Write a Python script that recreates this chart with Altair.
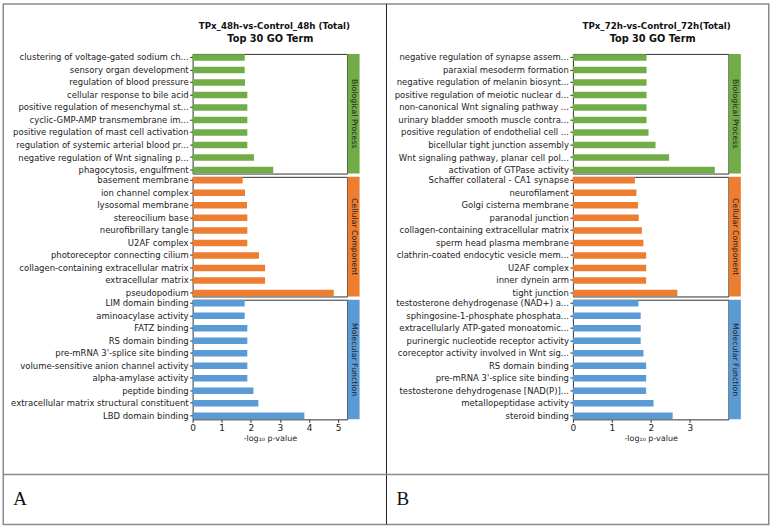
import altair as alt
import pandas as pd

# ---------------- data ----------------
l_bp_terms = ["clustering of voltage-gated sodium ch...", "sensory organ development",
              "regulation of blood pressure", "cellular response to bile acid",
              "positive regulation of mesenchymal st...", "cyclic-GMP-AMP transmembrane im...",
              "positive regulation of mast cell activation", "regulation of systemic arterial blood pr...",
              "negative regulation of Wnt signaling p...", "phagocytosis, engulfment"]
l_bp_vals = [1.79, 1.79, 1.80, 1.88, 1.88, 1.88, 1.88, 1.88, 2.11, 2.77]

l_cc_terms = ["basement membrane", "ion channel complex", "lysosomal membrane", "stereocilium base",
              "neurofibrillary tangle", "U2AF complex", "photoreceptor connecting cilium",
              "collagen-containing extracellular matrix", "extracellular matrix", "pseudopodium"]
l_cc_vals = [1.72, 1.80, 1.87, 1.88, 1.88, 1.88, 2.28, 2.49, 2.49, 4.85]

l_mf_terms = ["LIM domain binding", "aminoacylase activity", "FATZ binding", "RS domain binding",
              "pre-mRNA 3'-splice site binding", "volume-sensitive anion channel activity",
              "alpha-amylase activity", "peptide binding",
              "extracellular matrix structural constituent", "LBD domain binding"]
l_mf_vals = [1.79, 1.79, 1.88, 1.88, 1.88, 1.88, 1.88, 2.09, 2.26, 3.84]

r_bp_terms = ["negative regulation of synapse assem...", "paraxial mesoderm formation",
              "negative regulation of melanin biosynt...", "positive regulation of meiotic nuclear d...",
              "non-canonical Wnt signaling pathway ...", "urinary bladder smooth muscle contra...",
              "positive regulation of endothelial cell ...", "bicellular tight junction assembly",
              "Wnt signaling pathway, planar cell pol...", "activation of GTPase activity"]
r_bp_vals = [1.89, 1.89, 1.89, 1.89, 1.89, 1.89, 1.94, 2.12, 2.47, 3.64]

r_cc_terms = ["Schaffer collateral - CA1 synapse", "neurofilament", "Golgi cisterna membrane",
              "paranodal junction", "collagen-containing extracellular matrix",
              "sperm head plasma membrane", "clathrin-coated endocytic vesicle mem...",
              "U2AF complex", "inner dynein arm", "tight junction"]
r_cc_vals = [1.59, 1.63, 1.67, 1.69, 1.77, 1.81, 1.88, 1.88, 1.88, 2.68]

r_mf_terms = ["testosterone dehydrogenase (NAD+) a...", "sphingosine-1-phosphate phosphata...",
              "extracellularly ATP-gated monoatomic...", "purinergic nucleotide receptor activity",
              "coreceptor activity involved in Wnt sig...", "RS domain binding",
              "pre-mRNA 3'-splice site binding", "testosterone dehydrogenase [NAD(P)]...",
              "metallopeptidase activity", "steroid binding"]
r_mf_vals = [1.68, 1.74, 1.74, 1.74, 1.81, 1.88, 1.88, 1.88, 2.07, 2.56]

categories = ["Biological Process", "Cellular Component", "Molecular Function"]
cat_colors = ["#70AD47", "#ED7D31", "#5B9BD5"]
left_title = ["TPx_48h-vs-Control_48h  (Total)", "Top 30 GO Term"]
right_title = ["TPx_72h-vs-Control_72h(Total)", "Top 30 GO Term"]
left_ticks = [0, 1, 2, 3, 4, 5]
right_ticks = [0, 1, 2, 3]
panel_letters = ["A", "B"]

H = 120
FONT = "DejaVu Sans"
one = pd.DataFrame({"k": [0]})


def section(terms, vals, color, strip, xmax, W, ticks, bottom):
    df = pd.DataFrame({"term": terms, "value": vals})
    if bottom:
        xaxis = alt.Axis(values=ticks, title="-log₁₀ p-value", grid=False, domain=False,
                         tickSize=3, labelFontSize=9, titleFontSize=8, titleFontWeight="normal",
                         labelPadding=1, titlePadding=2, tickColor="#333", labelColor="#222",
                         titleColor="#222", labelFont=FONT, titleFont=FONT, labelFlush=False)
    else:
        xaxis = None
    bars = alt.Chart(df).mark_bar(color=color).encode(
        x=alt.X("value:Q", scale=alt.Scale(domain=[0, xmax], nice=False, zero=True), axis=xaxis),
        y=alt.Y("term:N", sort=None,
                scale=alt.Scale(paddingInner=0.48, paddingOuter=0.02),
                axis=alt.Axis(title=None, domain=False, tickSize=3, tickColor="#333",
                              labelFontSize=8.5, labelColor="#222", labelPadding=1.5,
                              labelLimit=400, labelFont=FONT)),
    )
    band = alt.Chart(one).mark_rect(color=color).encode(
        x=alt.value(W + 0.5), x2=alt.value(W + 12.5), y=alt.value(0), y2=alt.value(H))
    txt = alt.Chart(one).mark_text(text=strip, angle=90, fontSize=7.8, color="#222", font=FONT,
                                   align="center", baseline="middle").encode(
        x=alt.value(W + 6.5), y=alt.value(H / 2))
    return [bars, band, txt]


def title_layers(lines, cx1, cx2):
    t1 = alt.Chart(one).mark_text(text=lines[0], fontSize=8.7, fontWeight="bold", font=FONT,
                                  color="#111", align="center", baseline="middle").encode(
        x=alt.value(cx1), y=alt.value(-28.5))
    t2 = alt.Chart(one).mark_text(text=lines[1], fontSize=9.8, fontWeight="bold", font=FONT,
                                  color="#111", align="center", baseline="middle").encode(
        x=alt.value(cx2), y=alt.value(-15))
    return [t1, t2]


WL, WR = 155, 156

# frame (positions relative to left-top panel origin)
frame = alt.Chart(one).mark_rect(fill="white", fillOpacity=0, stroke="#8a8a8a", strokeWidth=1.5).encode(
    x=alt.value(-190), x2=alt.value(578), y=alt.value(-50), y2=alt.value(472))
divider = alt.Chart(one).mark_rule(color="#222", strokeWidth=1).encode(
    x=alt.value(194.5), y=alt.value(-50), y2=alt.value(472))
hline = alt.Chart(one).mark_rule(color="#8a8a8a", strokeWidth=1.5).encode(
    x=alt.value(-190), x2=alt.value(578), y=alt.value(422))
letterA = alt.Chart(one).mark_text(text=panel_letters[0], font="Liberation Serif", fontSize=19,
                                   color="#111", align="left", baseline="alphabetic").encode(
    x=alt.value(-180), y=alt.value(453))
letterB = alt.Chart(one).mark_text(text=panel_letters[1], font="Liberation Serif", fontSize=19,
                                   color="#111", align="left", baseline="alphabetic").encode(
    x=alt.value(204.5), y=alt.value(453))

l_bp = alt.layer(*section(l_bp_terms, l_bp_vals, cat_colors[0], categories[0], 5.31, WL, left_ticks, False),
                 *title_layers(left_title, 82, 78),
                 frame, divider, hline, letterA, letterB).properties(width=WL, height=H)
l_cc = alt.layer(*section(l_cc_terms, l_cc_vals, cat_colors[1], categories[1], 5.31, WL, left_ticks, False)
                 ).properties(width=WL, height=H)
l_mf = alt.layer(*section(l_mf_terms, l_mf_vals, cat_colors[2], categories[2], 5.31, WL, left_ticks, True)
                 ).properties(width=WL, height=H)

r_bp = alt.layer(*section(r_bp_terms, r_bp_vals, cat_colors[0], categories[0], 3.99, WR, right_ticks, False),
                 *title_layers(right_title, 84, 80)).properties(width=WR, height=H)
r_cc = alt.layer(*section(r_cc_terms, r_cc_vals, cat_colors[1], categories[1], 3.99, WR, right_ticks, False)
                 ).properties(width=WR, height=H)
r_mf = alt.layer(*section(r_mf_terms, r_mf_vals, cat_colors[2], categories[2], 3.99, WR, right_ticks, True)
                 ).properties(width=WR, height=H)

chart = alt.concat(l_bp, r_bp, l_cc, r_cc, l_mf, r_mf, columns=2,
                   spacing={"row": 3.3, "column": 226.5}, bounds="flush").properties(
    padding=1.25, background="white"
).configure_view(stroke="#333", strokeWidth=1)

chart.save("out.html", embed_options={"renderer": "svg", "actions": False})
